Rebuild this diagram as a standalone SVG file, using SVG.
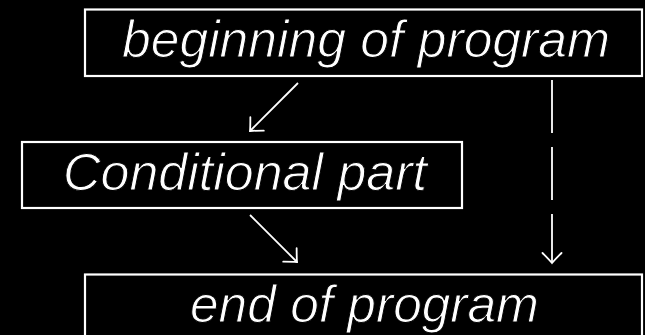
<svg xmlns="http://www.w3.org/2000/svg" width="645" height="335" viewBox="0 0 645 335">
  <style>
    .box { fill: #000; stroke: #fff; stroke-width: 2.2; }
    .lbl { font-family: "Liberation Sans", Arial, sans-serif; font-style: italic; font-size: 51.6px; fill: #fff; stroke: #000; stroke-width: 1; text-anchor: middle; }
    .edge { stroke: #fff; stroke-width: 1.8; fill: none; }
    .dash { stroke-dasharray: 53 14; }
  </style>
  <defs>
    <marker id="arr" viewBox="-12 -12 14 24" refX="0" refY="0" markerWidth="14" markerHeight="24" markerUnits="userSpaceOnUse" orient="auto" overflow="visible">
      <path d="M-10,-9.5 Q-3,-2.5 0,0 Q-3,2.5 -10,9.5" fill="none" stroke="#fff" stroke-width="1.8" stroke-linecap="round" stroke-dasharray="none"/>
    </marker>
  </defs>
  <rect width="645" height="335" fill="#000"/>
  <g id="beginning">
    <rect class="box" x="85" y="9.5" width="557" height="66.5"/>
    <text class="lbl" x="366" y="57" textLength="488" lengthAdjust="spacingAndGlyphs">beginning of program</text>
  </g>
  <g id="conditional">
    <rect class="box" x="22" y="142" width="440" height="66"/>
    <text class="lbl" x="245" y="189.5" textLength="364" lengthAdjust="spacingAndGlyphs">Conditional part</text>
  </g>
  <g id="end">
    <rect class="box" x="85" y="274.5" width="557" height="70"/>
    <text class="lbl" x="364.5" y="321.5" textLength="349" lengthAdjust="spacingAndGlyphs">end of program</text>
  </g>
  <g id="connectors">
    <path class="edge" d="M298,83 L250,131" marker-end="url(#arr)"/>
    <path class="edge" d="M250,215 L297,262" marker-end="url(#arr)"/>
    <path class="edge dash" d="M552,80 L552,263" marker-end="url(#arr)"/>
  </g>
</svg>
